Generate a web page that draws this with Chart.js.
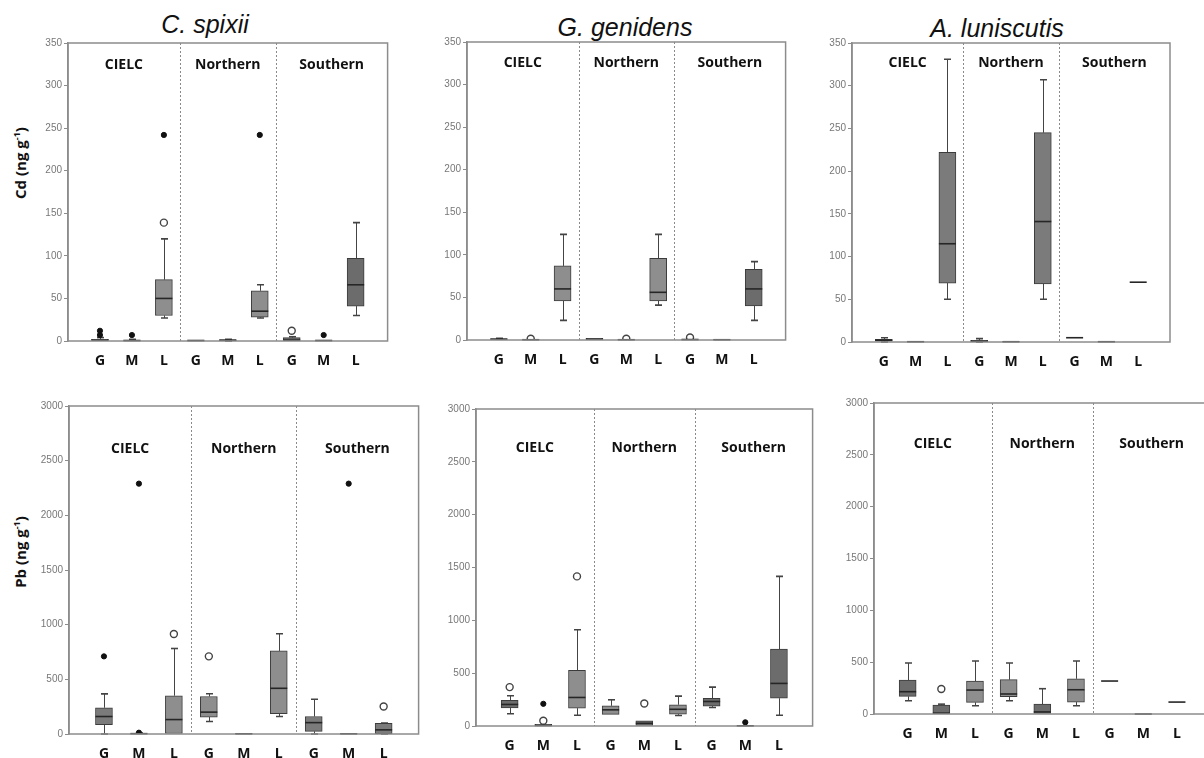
<!DOCTYPE html>
<html><head><meta charset="utf-8">
<script src="https://cdn.jsdelivr.net/npm/chart.js@4"></script>
<style>
html,body{margin:0;padding:0;background:#fff;overflow:hidden;width:1204px;height:758px;}
.panel{position:absolute;}
.title{position:absolute;font-family:"Liberation Sans",Arial,sans-serif;font-style:italic;font-size:25px;color:#111;transform:translate(-50%,-50%);white-space:nowrap;line-height:1;}
.ytitle{position:absolute;font-family:"Open Sans",sans-serif;font-weight:700;font-size:15px;color:#111;transform:translate(-50%,-50%) rotate(-90deg);white-space:nowrap;line-height:1;}
.ytitle sup{font-size:9px;}
</style></head><body>
<div class="title" style="left:205px;top:24px;">C. spixii</div>
<div class="title" style="left:625px;top:27px;">G. genidens</div>
<div class="title" style="left:997px;top:28px;">A. luniscutis</div>
<div class="ytitle" style="left:20px;top:163px;">Cd (ng g<sup>-1</sup>)</div>
<div class="ytitle" style="left:20px;top:552px;">Pb (ng g<sup>-1</sup>)</div>
<script>
// ---- categories ----
const groupLabels = ['G','M','L','G','M','L','G','M','L'];
const regionNames = ['CIELC','Northern','Southern'];
const cdTickStep = 50, cdMax = 350;
const pbTickStep = 500, pbMax = 3000;

// ---- five-number summaries [min, q1, median, q3, max] for each box ----
const cdSpixii = [[0,0,1,2,4],[0,0,0.5,1,2],[27,30,50,72,120],[0,0,0.5,1,1],[0,0.5,1,1.5,2],[27,28,35,59,66],[0,0,1,4,5],[0,0,0.5,1,1],[30,41,66,97,139]];
const cdSpixiiMild = [[3,139],[7,12]];
const cdSpixiiExtreme = [[1,7],[1,12],[2,7],[3,242],[6,242],[8,7]];

const cdGenidens = [[0,0,1,1.5,2],[0,0,0.3,0.5,0.5],[23,46,60,87,124],[0,0,1,2,2],[0,0,0.3,0.5,0.5],[41,46,56,96,124],[0,0,0.5,1,1],[0,0,0.3,0.5,0.5],[23,40,60,83,92]];
const cdGenidensMild = [[2,1.5],[5,1.5],[7,3]];
const cdGenidensExtreme = [];

const cdLuniscutis = [[0,1,2,3,5],[0,0,0.3,0.5,0.5],[50,69,115,222,331],[0,0.5,1,2,4],[0,0,0.3,0.5,0.5],[50,68,141,245,307],[5,5,5,5,5],[0,0,0.3,0.5,0.5],[70,70,70,70,70]];
const cdLuniscutisMild = [];
const cdLuniscutisExtreme = [];

const pbSpixii = [[0,85,160,240,367],[0,0,3,6,10],[0,0,132,350,782],[115,155,200,343,368],[0,0,2,5,5],[160,187,418,760,917],[0,24,104,160,318],[0,0,2,4,4],[0,2,38,98,100]];
const pbSpixiiMild = [[3,915],[4,710],[9,252]];
const pbSpixiiExtreme = [[1,710],[2,2290],[2,12],[8,2290]];

const pbGenidens = [[116,170,204,242,286],[0,0,5,15,15],[102,169,270,528,911],[110,110,153,191,248],[0,0,25,50,50],[100,112,158,201,283],[175,188,232,263,368],[0,0,2,5,5],[102,263,403,728,1416]];
const pbGenidensMild = [[1,368],[2,49],[3,1416],[5,213]];
const pbGenidensExtreme = [[2,210],[8,35]];

const pbLuniscutis = [[128,170,215,328,492],[0,0,8,85,95],[80,112,231,318,511],[128,167,193,331,492],[0,0,20,96,244],[80,115,234,340,511],[318,318,318,318,318],[0,0,0,0,0],[115,115,115,115,115]];
const pbLuniscutisMild = [[2,241]];
const pbLuniscutisExtreme = [];

// ---- styles (box shades) ----
const shadeColors = {m:'#8e8e8e', d:'#6c6c6c', n:'#7b7b7b'};
const cdSpixiiShade = ['d','d','m','m','m','m','d','d','d'];
const cdGenidensShade = ['d','d','m','d','d','m','d','d','d'];
const cdLuniscutisShade = ['d','d','n','d','d','n','d','d','d'];
const pbSpixiiShade = ['n','d','m','m','d','m','n','d','n'];
const pbGenidensShade = ['d','d','m','m','d','m','d','d','d'];
const pbLuniscutisShade = ['d','d','m','m','d','m','d','d','d'];

// ---- layout ----
const panels = [
  {box:cdSpixii, mild:cdSpixiiMild, ext:cdSpixiiExtreme, shade:cdSpixiiShade, max:cdMax, step:cdTickStep, L:68, T:43, R:389, B:341, lab:22},
  {box:cdGenidens, mild:cdGenidensMild, ext:cdGenidensExtreme, shade:cdGenidensShade, max:cdMax, step:cdTickStep, L:467, T:42, R:787, B:340, lab:21},
  {box:cdLuniscutis, mild:cdLuniscutisMild, ext:cdLuniscutisExtreme, shade:cdLuniscutisShade, max:cdMax, step:cdTickStep, L:852, T:43, R:1170, B:342, lab:20},
  {box:pbSpixii, mild:pbSpixiiMild, ext:pbSpixiiExtreme, shade:pbSpixiiShade, max:pbMax, step:pbTickStep, L:69, T:406, R:420, B:734, lab:43},
  {box:pbGenidens, mild:pbGenidensMild, ext:pbGenidensExtreme, shade:pbGenidensShade, max:pbMax, step:pbTickStep, L:476, T:409, R:814, B:726, lab:39},
  {box:pbLuniscutis, mild:pbLuniscutisMild, ext:pbLuniscutisExtreme, shade:pbLuniscutisShade, max:pbMax, step:pbTickStep, L:874, T:403, R:1212, B:714, lab:41}
];

const AXW = 40, AXH = 30, PADT = 10, PADR = 4, BOXW = 17;

const boxPlugin = {
  id:'boxplot',
  beforeDatasetsDraw(chart){
    const {ctx, chartArea:a, scales:{x,y}} = chart;
    const p = chart.options.plugins.boxplot;
    ctx.save();
    ctx.strokeStyle = '#8a8a8a'; ctx.lineWidth = 1; ctx.setLineDash([2,2]);
    [3.5,6.5].forEach(v=>{
      const px = Math.round(x.getPixelForValue(v))+0.5;
      ctx.beginPath(); ctx.moveTo(px,a.top); ctx.lineTo(px,a.bottom); ctx.stroke();
    });
    ctx.setLineDash([]);
    ctx.strokeStyle = '#444'; ctx.lineWidth = 1;
    p.box.forEach((b,i)=>{
      const cx = Math.round(x.getPixelForValue(i+1))+0.5;
      const yMin = y.getPixelForValue(b[0]), yQ1 = y.getPixelForValue(b[1]);
      const yQ3 = y.getPixelForValue(b[3]), yMax = y.getPixelForValue(b[4]);
      ctx.beginPath();
      ctx.moveTo(cx,yMin); ctx.lineTo(cx,yQ1);
      ctx.moveTo(cx,yQ3); ctx.lineTo(cx,yMax);
      ctx.stroke();
      ctx.lineWidth = 1.6;
      ctx.beginPath();
      if (b[0] < b[1]) { ctx.moveTo(cx-3.5,yMin); ctx.lineTo(cx+3.5,yMin); }
      if (b[4] > b[3]) { ctx.moveTo(cx-3.5,yMax); ctx.lineTo(cx+3.5,yMax); }
      ctx.stroke();
      ctx.lineWidth = 1;
    });
    ctx.restore();
  },
  afterDatasetsDraw(chart){
    const {ctx, chartArea:a, scales:{x,y}} = chart;
    const p = chart.options.plugins.boxplot;
    ctx.save();
    ctx.strokeStyle = '#262626'; ctx.lineWidth = 1.6;
    p.box.forEach((b,i)=>{
      const cx = x.getPixelForValue(i+1);
      const ym = y.getPixelForValue(b[2]);
      ctx.beginPath(); ctx.moveTo(cx-BOXW/2,ym); ctx.lineTo(cx+BOXW/2,ym); ctx.stroke();
    });
    ctx.strokeStyle = '#8c8c8c'; ctx.lineWidth = 1.5;
    ctx.strokeRect(a.left, a.top, a.right-a.left, a.bottom-a.top);
    ctx.fillStyle = '#111';
    ctx.font = 'bold 14px "Open Sans", sans-serif';
    ctx.textAlign = 'center'; ctx.textBaseline = 'middle';
    [1.75,5,8.25].forEach((v,k)=>{
      ctx.fillText(regionNames[k], x.getPixelForValue(v), a.top + p.lab);
    });
    ctx.restore();
  }
};

panels.forEach((p,idx)=>{
  const div = document.createElement('div');
  div.className = 'panel';
  const w = (p.R - p.L) + AXW + PADR;
  const h = (p.B - p.T) + PADT + AXH;
  div.style.left = (p.L - AXW) + 'px';
  div.style.top = (p.T - PADT) + 'px';
  div.style.width = w + 'px'; div.style.height = h + 'px';
  const cv = document.createElement('canvas');
  cv.width = w; cv.height = h;
  cv.style.width = w + 'px'; cv.style.height = h + 'px';
  div.appendChild(cv);
  document.body.appendChild(div);

  new Chart(cv.getContext('2d'), {
    type:'bar',
    data:{
      datasets:[
        {type:'bar', data:p.box.map((b,i)=>({x:i+1, y:[b[1],b[3]]})),
         backgroundColor:p.shade.map(s=>shadeColors[s]), borderColor:'#3c3c3c', borderWidth:1,
         borderSkipped:false, barThickness:BOXW, order:2},
        {type:'scatter', data:p.mild.map(o=>({x:o[0], y:o[1]})), pointStyle:'circle',
         pointRadius:3.5, pointBorderWidth:1.4, pointBorderColor:'#444', pointBackgroundColor:'#fff', order:1},
        {type:'scatter', data:p.ext.map(o=>({x:o[0], y:o[1]})), pointStyle:'circle',
         pointRadius:2.6, pointBorderWidth:1, pointBorderColor:'#111', pointBackgroundColor:'#111', order:0}
      ]
    },
    options:{
      responsive:false, animation:false, events:[],
      layout:{padding:{top:PADT, right:PADR, left:0, bottom:0}},
      plugins:{legend:{display:false}, tooltip:{enabled:false}, title:{display:false},
        boxplot:{box:p.box, lab:p.lab}},
      scales:{
        x:{type:'linear', min:0, max:10, offset:false,
           afterBuildTicks:s=>{ s.ticks = groupLabels.map((_,i)=>({value:i+1})); },
           afterFit:s=>{ s.height = AXH; },
           ticks:{autoSkip:false, maxRotation:0, padding:4, color:'#111',
             font:{family:'"Open Sans", sans-serif', size:14, weight:'bold'},
             callback:(v)=>groupLabels[v-1] || ''},
           grid:{display:false}, border:{display:false}},
        y:{type:'linear', min:0, max:p.max,
           afterFit:s=>{ s.width = AXW; },
           ticks:{stepSize:p.step, padding:2, color:'#777',
             font:{family:'"Liberation Sans", Arial, sans-serif', size:10},
             callback:(v)=>String(v)},
           grid:{display:true, drawOnChartArea:false, drawTicks:true, tickLength:4, color:'#8c8c8c'},
           border:{display:true, color:'#8c8c8c', width:1.5}}
      }
    },
    plugins:[boxPlugin]
  });
});
</script>
</body></html>
